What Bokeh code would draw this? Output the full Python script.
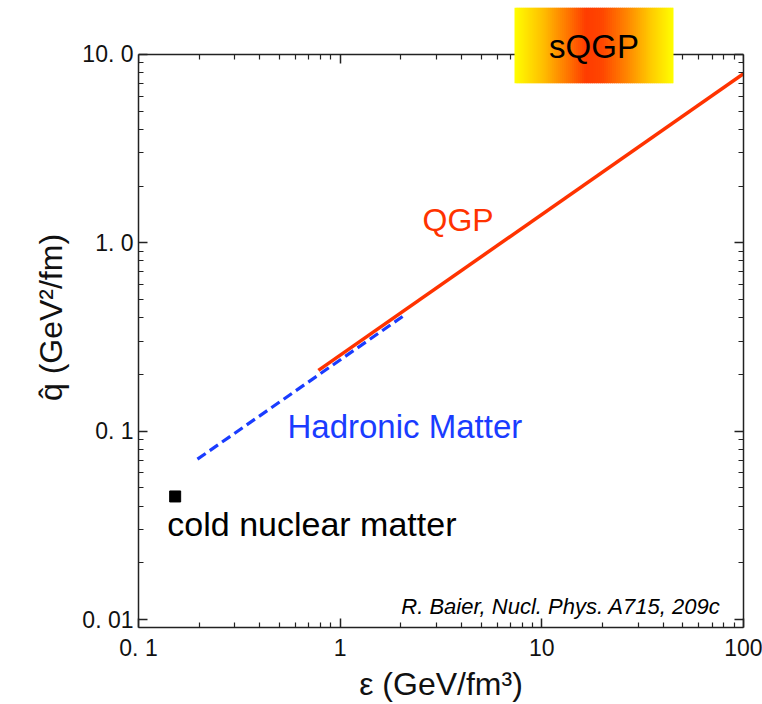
import math
from bokeh.plotting import figure
from bokeh.models import FixedTicker, LogAxis, Label, BoxAnnotation
from bokeh.embed import file_html
from bokeh.resources import INLINE

# ---- data ----
qgp_eps = [0.78, 100.0]
qgp_qhat = [0.21, 7.9]

hadronic_eps = [0.196, 2.04]
hadronic_qhat = [0.071, 0.406]

cold_eps = [0.152]
cold_qhat = [0.045]

x_ticks = [0.1, 1, 10, 100]
x_tick_labels = ["0. 1", "1", "10", "100"]
y_ticks = [0.01, 0.1, 1, 10]
y_tick_labels = ["0. 01", "0. 1", "1. 0", "10. 0"]
x_minor = [0.2, 0.3, 0.4, 0.5, 0.6, 0.7, 0.8, 0.9,
           2, 3, 4, 5, 6, 7, 8, 9, 20, 30, 40, 50, 60, 70, 80, 90]
y_minor = [0.02, 0.03, 0.04, 0.05, 0.06, 0.07, 0.08, 0.09,
           0.2, 0.3, 0.4, 0.5, 0.6, 0.7, 0.8, 0.9,
           2, 3, 4, 5, 6, 7, 8, 9]

FONT = "Liberation Sans"
RED = "#ff3300"
BLUE = "#1a3cff"
AXC = "#222222"

Y_MIN, Y_MAX = 0.00907, 10.0
Y_TOP = 17.73  # extra room above the axes box for the sQGP badge

p = figure(width=762, height=704, x_axis_type="log", y_axis_type="log",
           x_range=(0.1, 100), y_range=(Y_MIN, Y_TOP),
           output_backend="svg", toolbar_location=None,
           min_border_left=138, min_border_right=19,
           min_border_top=7, min_border_bottom=75,
           x_axis_label="ε (GeV/fm³)", y_axis_label="q̂ (GeV²/fm)")
p.grid.visible = False
p.outline_line_color = None
p.background_fill_color = "white"
p.border_fill_color = "white"

bottom = p.below[0]
left = p.left[0]
top = LogAxis(fixed_location=Y_MAX)
right = LogAxis(bounds=(Y_MIN, Y_MAX))
p.add_layout(top, "above")
p.add_layout(right, "right")
left.bounds = (Y_MIN, Y_MAX)

for ax in (bottom, top):
    ax.ticker = FixedTicker(ticks=x_ticks, minor_ticks=x_minor)
for ax in (left, right):
    ax.ticker = FixedTicker(ticks=y_ticks, minor_ticks=y_minor)

for ax in (bottom, top, left, right):
    ax.axis_line_color = AXC
    ax.axis_line_width = 1.5
    ax.major_tick_line_color = AXC
    ax.minor_tick_line_color = AXC
    ax.major_tick_line_width = 1.5
    ax.minor_tick_line_width = 1.2
    ax.major_tick_in = 9
    ax.major_tick_out = 0
    ax.minor_tick_in = 5
    ax.minor_tick_out = 0
    ax.major_label_text_font = FONT
    ax.major_label_text_font_size = "23px"
    ax.major_label_text_color = "#111111"
    ax.axis_label_text_font = FONT
    ax.axis_label_text_font_size = "32px"
    ax.axis_label_text_font_style = "normal"
    ax.axis_label_text_color = "#111111"

bottom.major_label_overrides = {t: l for t, l in zip(x_ticks, x_tick_labels)}
left.major_label_overrides = {t: l for t, l in zip(y_ticks, y_tick_labels)}
bottom.major_label_standoff = 7
left.major_label_standoff = 5
bottom.axis_label_standoff = 2
left.axis_label_standoff = 10

# top / right axes: ticks only
for ax, ticks in ((top, x_ticks), (right, y_ticks)):
    ax.major_label_overrides = {t: "" for t in ticks}
    ax.major_label_standoff = 0
    ax.major_label_text_font_size = "0px"

# ---- data marks ----
p.line(hadronic_eps, hadronic_qhat, line_color=BLUE, line_width=3.2,
       line_dash="10 5")
p.line(qgp_eps, qgp_qhat, line_color=RED, line_width=3.5)
p.scatter(cold_eps, cold_qhat, marker="square", size=11, fill_color="black",
          line_color="black")

# ---- text annotations ----
p.add_layout(Label(x=2.56, y=1.32, text="QGP", text_color=RED,
                   text_font=FONT, text_font_size="32px",
                   text_baseline="alphabetic", text_align="left"))
p.add_layout(Label(x=0.548, y=0.106, text="Hadronic Matter", text_color=BLUE,
                   text_font=FONT, text_font_size="33px",
                   text_baseline="alphabetic", text_align="left"))
p.add_layout(Label(x=0.139, y=0.0322, text="cold nuclear matter",
                   text_color="black", text_font=FONT, text_font_size="34px",
                   text_baseline="alphabetic", text_align="left"))
p.add_layout(Label(x=76.9, y=0.01171, text="R. Baier, Nucl. Phys. A715, 209c",
                   text_color="black", text_font=FONT, text_font_size="22px",
                   text_font_style="italic",
                   text_baseline="alphabetic", text_align="right"))

# ---- sQGP gradient badge ----
box_left, box_right = 7.32, 44.97
box_bottom, box_top = 7.03, 17.73
stops = [(0.0, (255, 255, 0)), (0.18, (255, 190, 0)), (0.35, (255, 110, 0)),
         (0.45, (255, 60, 0)), (0.55, (255, 70, 0)), (0.7, (255, 130, 0)),
         (0.85, (255, 200, 0)), (1.0, (255, 255, 0))]


def grad(t):
    for (t0, c0), (t1, c1) in zip(stops[:-1], stops[1:]):
        if t0 <= t <= t1:
            f = (t - t0) / (t1 - t0)
            return "#%02x%02x%02x" % tuple(int(round(a + (b - a) * f)) for a, b in zip(c0, c1))
    return "#ffff00"


N = 80
lx0, lx1 = math.log10(box_left), math.log10(box_right)
for i in range(N):
    a = lx0 + (lx1 - lx0) * i / N
    b = min(lx0 + (lx1 - lx0) * (i + 1.6) / N, lx1)
    p.add_layout(BoxAnnotation(left=10 ** a, right=10 ** b,
                               bottom=box_bottom, top=box_top,
                               fill_color=grad((i + 0.5) / N), fill_alpha=1.0,
                               line_color=None))

p.add_layout(Label(x=math.sqrt(box_left * box_right), y=11.0, text="sQGP",
                   text_color="black", text_font=FONT, text_font_size="33px",
                   text_baseline="alphabetic", text_align="center"))

open("out.html", "w").write(file_html(p, INLINE))
